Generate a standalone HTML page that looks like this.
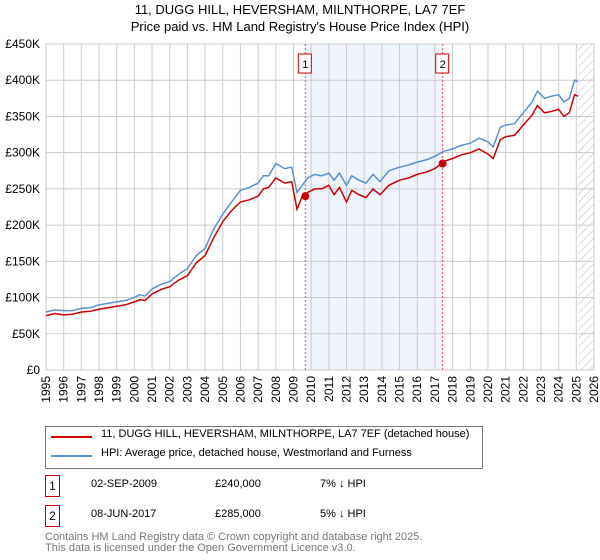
<!DOCTYPE html>
<html><head><meta charset="utf-8"><style>
body{margin:0;background:#fff;font-family:"Liberation Sans","DejaVu Sans",sans-serif;}
#wrap{position:relative;width:600px;height:560px;overflow:hidden}
.t{position:absolute;font-size:13px;color:#000;white-space:nowrap}
.box{position:absolute;border:1px solid #c00;width:13px;height:20px;font-size:12px;text-align:center;line-height:20px}
</style></head><body><div id="wrap">
<div class="t" style="left:0;width:600px;text-align:center;top:2px">11, DUGG HILL, HEVERSHAM, MILNTHORPE, LA7 7EF</div>
<div class="t" style="left:0;width:600px;text-align:center;top:19px">Price paid vs. HM Land Registry's House Price Index (HPI)</div>
<svg id="chart" width="600" height="420" style="position:absolute;left:0;top:0" font-family="Liberation Sans, DejaVu Sans, sans-serif" font-size="12"></svg>
<div style="position:absolute;left:45px;top:426px;width:436px;height:41px;border:1px solid #777">
<div style="position:absolute;left:5px;top:9px;width:41px;height:2px;background:#c00"></div>
<div class="t" style="left:55px;top:1px;font-size:11px">11, DUGG HILL, HEVERSHAM, MILNTHORPE, LA7 7EF (detached house)</div>
<div style="position:absolute;left:5px;top:28px;width:41px;height:2px;background:#5b8fd6"></div>
<div class="t" style="left:55px;top:20px;font-size:11px">HPI: Average price, detached house, Westmorland and Furness</div>
</div>
<div class="box" style="left:45px;top:475px">1</div>
<div class="t" style="left:91px;top:478px;font-size:11px">02-SEP-2009</div>
<div class="t" style="left:215px;top:478px;font-size:11px">£240,000</div>
<div class="t" style="left:320px;top:478px;font-size:11px">7% ↓ HPI</div>
<div class="box" style="left:45px;top:505px">2</div>
<div class="t" style="left:91px;top:508px;font-size:11px">08-JUN-2017</div>
<div class="t" style="left:215px;top:508px;font-size:11px">£285,000</div>
<div class="t" style="left:320px;top:508px;font-size:11px">5% ↓ HPI</div>
<div class="t" style="left:45px;top:532px;font-size:11px;color:#777;line-height:11px">Contains HM Land Registry data © Crown copyright and database right 2025.<br>This data is licensed under the Open Government Licence v3.0.</div>
</div>
<script>
const years=[1995.0,1995.5,1996,1996.5,1997,1997.5,1998,1998.5,1999,1999.5,2000,2000.3,2000.6,2001,2001.5,2002,2002.5,2003,2003.5,2004,2004.5,2005,2005.5,2006,2006.5,2007,2007.3,2007.6,2008,2008.5,2008.9,2009.2,2009.5,2009.8,2010.2,2010.6,2011,2011.3,2011.6,2012,2012.3,2012.7,2013.1,2013.5,2013.9,2014.4,2015,2015.5,2016,2016.5,2017,2017.5,2018,2018.5,2019,2019.5,2020,2020.3,2020.7,2021,2021.5,2022,2022.5,2022.8,2023.2,2023.6,2024,2024.3,2024.6,2024.9,2025.1];
const hpi=[80,83,82,82,85,86,90,92,94,96,100,104,102,112,118,122,132,140,158,168,195,215,232,248,252,258,268,268,285,278,280,245,255,265,270,268,272,262,272,255,268,262,258,270,260,275,280,283,287,290,295,302,305,310,313,320,315,308,335,338,340,355,370,385,375,378,380,370,375,400,398];
const price=[75,78,76,77,80,81,84,86,88,90,94,97,96,105,111,115,124,130,148,158,183,205,220,232,235,240,250,252,265,258,260,222,240,245,250,250,255,242,252,232,248,242,238,250,242,255,262,265,270,273,278,288,292,297,300,305,298,292,318,322,324,338,352,365,355,357,360,350,355,380,378];
const sales=[[2009.67,240],[2017.44,285]];
const yTicks=[0,50,100,150,200,250,300,350,400,450];
const yLabels=["£0","£50K","£100K","£150K","£200K","£250K","£300K","£350K","£400K","£450K"];
const xTicks=[1995,1996,1997,1998,1999,2000,2001,2002,2003,2004,2005,2006,2007,2008,2009,2010,2011,2012,2013,2014,2015,2016,2017,2018,2019,2020,2021,2022,2023,2024,2025,2026];
const X0=46,X1=594,Y0=370,Y1=44;
const xs=y=>X0+(y-1995)/(2026-1995)*(X1-X0);
const ys=v=>Y0-v/450*(Y0-Y1);
const svg=document.getElementById('chart');
const NS='http://www.w3.org/2000/svg';
function mk(t,a){const e=document.createElementNS(NS,t);for(const k in a)e.setAttribute(k,a[k]);svg.appendChild(e);return e;}
let e=mk('rect',{x:xs(sales[0][0]),y:Y1,width:xs(sales[1][0])-xs(sales[0][0]),height:Y0-Y1,fill:'#eef3fc'});


const defs=mk('defs',{});
defs.innerHTML='<pattern id="h" width="6" height="6" patternUnits="userSpaceOnUse" patternTransform="rotate(45)"><line x1="0" y1="0" x2="0" y2="6" stroke="#bbb" stroke-width="1"/></pattern>';
e=mk('rect',{x:xs(2025.1),y:Y1,width:X1-xs(2025.1),height:Y0-Y1,fill:'url(#h)'});


xTicks.forEach(t=>{
 e=mk('line',{x1:xs(t),x2:xs(t),y1:Y1,y2:Y0,stroke:'#ccc'});
 
 
 e=mk('text',{x:0,y:0,transform:`translate(${xs(t)+4},${Y0+6}) rotate(-90)`,'text-anchor':'end'});
 e.textContent=t;
 
 
});
yTicks.forEach((t,i)=>{
 e=mk('line',{x1:X0,x2:X1,y1:ys(t),y2:ys(t),stroke:'#ccc'});
 
 
 e=mk('text',{x:X0-6,y:ys(t)+4,'text-anchor':'end'});
 e.textContent=yLabels[i];
 
 
});
sales.forEach((s,i)=>{
 e=mk('line',{x1:xs(s[0]),x2:xs(s[0]),y1:Y1,y2:Y0,stroke:'#e05050','stroke-dasharray':'2,2'});
 
 
 e=mk('rect',{x:xs(s[0])-7,y:54,width:13,height:19,fill:'#fff',stroke:'#c00'});
 
 
 e=mk('text',{x:xs(s[0]),y:68,'text-anchor':'middle','font-size':'11'});
 e.textContent=String(i+1);
 
 
});
const path=a=>years.map((y,i)=>(i?'L':'M')+xs(y).toFixed(1)+','+ys(a[i]).toFixed(1)).join('');
e=mk('path',{d:path(hpi),fill:'none',stroke:'#5b8fd6','stroke-width':1.5});


e=mk('path',{d:path(price),fill:'none',stroke:'#c00','stroke-width':1.5});


sales.forEach((s,i)=>{
 e=mk('circle',{cx:xs(s[0]),cy:ys(s[1]),r:4,fill:'#c00'});
 
 
});
</script></body></html>
